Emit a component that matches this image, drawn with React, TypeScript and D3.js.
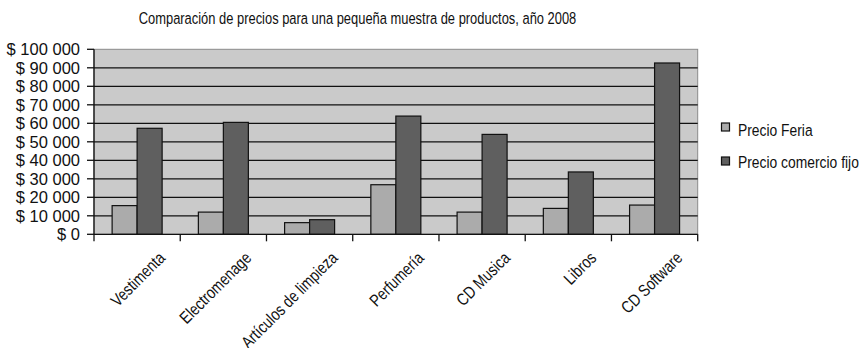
import React from "react";
import * as d3 from "d3";

const categories = [
  "Vestimenta",
  "Electromenage",
  "Artículos de limpieza",
  "Perfumería",
  "CD Musica",
  "Libros",
  "CD Software",
];
const seriesNames = ["Precio Feria", "Precio comercio fijo"];
const precioFeria = [15500, 12000, 6300, 26800, 12000, 14000, 15800];
const precioComercio = [57300, 60500, 7900, 63900, 54000, 33700, 92600];
const yTicks = [0, 10000, 20000, 30000, 40000, 50000, 60000, 70000, 80000, 90000, 100000];
const title = "Comparación de precios para una pequeña muestra de productos, año 2008";

const W = 866;
const H = 348;
const M = { left: 94, right: 697.7, top: 49.3, bottom: 234.3 };
const colors = ["#ababab", "#5f5f5f"];
const FONT = "'Liberation Sans', Arial, sans-serif";
const NARROW = 0.815;

const fmt = (v: number) => {
  if (v === 0) return "$ 0";
  const s = String(v);
  const parts: string[] = [];
  let i = s.length;
  while (i > 0) {
    parts.unshift(s.slice(Math.max(0, i - 3), i));
    i -= 3;
  }
  return "$ " + parts.join(" ");
};

export default function App() {
  const x = d3.scaleBand<string>().domain(categories).range([M.left, M.right]).padding(0);
  const xs = d3
    .scaleBand<string>()
    .domain(seriesNames)
    .range([0, x.bandwidth()])
    .paddingInner(0)
    .paddingOuter(0.725);
  const y = d3.scaleLinear().domain([0, 100000]).range([M.bottom, M.top]);
  const series = [precioFeria, precioComercio];
  const boundaries = categories.map((c) => x(c)!).concat([M.right]);

  return (
    <svg
      width={W}
      height={H}
      style={{ position: "absolute", left: 0, top: 0, background: "#fff" }}
      fontFamily={FONT}
    >
      <g transform={`translate(357.5,24) scale(0.76,1)`}>
        <text x={0} y={0} textAnchor="middle" fontSize={17} fill="#111">
          {title}
        </text>
      </g>
      {/* plot background */}
      <rect
        x={M.left}
        y={M.top}
        width={M.right - M.left}
        height={M.bottom - M.top}
        fill="#cacaca"
        stroke="#8a8a8a"
        strokeWidth={1}
      />
      {/* gridlines */}
      {yTicks
        .filter((t) => t > 0 && t < 100000)
        .map((t) => (
          <line key={t} x1={M.left} x2={M.right} y1={y(t)} y2={y(t)} stroke="#111" strokeWidth={1.2} />
        ))}
      {/* bars */}
      {series.map((vals, si) =>
        vals.map((v, ci) => (
          <rect
            key={`${si}-${ci}`}
            x={x(categories[ci])! + xs(seriesNames[si])!}
            y={y(v)}
            width={xs.bandwidth()}
            height={M.bottom - y(v)}
            fill={colors[si]}
            stroke="#111"
            strokeWidth={1.2}
          />
        ))
      )}
      {/* axes */}
      <line x1={M.left} x2={M.left} y1={M.top} y2={M.bottom} stroke="#111" strokeWidth={1.3} />
      <line x1={M.left} x2={M.right} y1={M.bottom} y2={M.bottom} stroke="#111" strokeWidth={1.3} />
      {yTicks.map((t) => (
        <g key={t}>
          <line x1={M.left - 7} x2={M.left} y1={y(t)} y2={y(t)} stroke="#111" strokeWidth={1.3} />
          <text x={80} y={y(t) + 6} textAnchor="end" fontSize={16.5} fill="#111">
            {fmt(t)}
          </text>
        </g>
      ))}
      {boundaries.map((b, i) => (
        <line key={i} x1={b} x2={b} y1={M.bottom} y2={M.bottom + 7} stroke="#111" strokeWidth={1.3} />
      ))}
      {categories.map((c) => {
        const cx = x(c)! + x.bandwidth() / 2 + 29;
        const cy = 259;
        return (
          <g key={c} transform={`translate(${cx},${cy}) rotate(-45) scale(${NARROW},1)`}>
            <text x={0} y={0} textAnchor="end" fontSize={17} fill="#111">
              {c}
            </text>
          </g>
        );
      })}
      {/* legend */}
      {seriesNames.map((s, i) => (
        <g key={s}>
          <rect x={721.5} y={123 + i * 34} width={8} height={8} fill={colors[i]} stroke="#111" strokeWidth={1.2} />
          <g transform={`translate(738,${135.5 + i * 32}) scale(${NARROW},1)`}>
            <text x={0} y={0} fontSize={17} fill="#111">
              {s}
            </text>
          </g>
        </g>
      ))}
    </svg>
  );
}
